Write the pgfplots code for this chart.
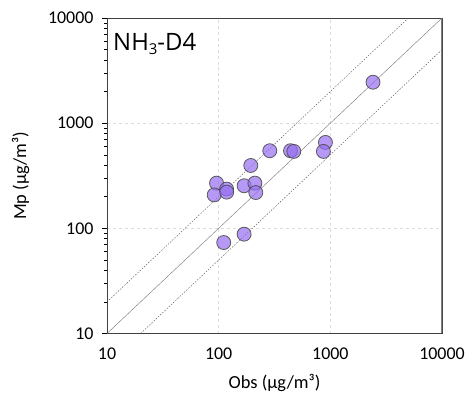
\documentclass[border=0pt]{standalone}
\usepackage{pgfplots}
\pgfplotsset{compat=1.18}
\usepackage{fontspec}
\setmainfont{Carlito}
\newfontfamily\titlefont{Open Sans}
\definecolor{ptfill}{RGB}{150,110,240}
\definecolor{gridc}{RGB}{220,220,220}
\begin{document}
\begin{tikzpicture}
\begin{axis}[
  name=ax,
  scale only axis,
  width=335bp, height=315.5bp,
  xmode=log, ymode=log,
  xmin=10, xmax=10000, ymin=10, ymax=10000,
  xtick={10,100,1000,10000}, ytick={10,100,1000,10000},
  xticklabels={10,100,1000,10000}, yticklabels={10,100,1000,10000},
  minor xtick={}, minor ytick={},
  log ticks with fixed point,
  tick label style={font=\fontsize{18}{18}\selectfont},
  xticklabel style={yshift=-6bp},
  yticklabel style={xshift=-5bp},
  /pgf/number format/assume math mode=true,
  xtick style={draw=none},
  ytick style={draw=black, thin},
  tick align=outside,
  major tick length=5bp,
  xtick pos=bottom, ytick pos=left,
  grid=major,
  major grid style={gridc, dashed, thin},
  axis line style={draw=black!75, thick},
  xlabel={Obs (µg/m³)}, ylabel={Mp (µg/m³)},
  label style={font=\fontsize{18.5}{18.5}\selectfont},
  xlabel style={yshift=-8bp},
  ylabel style={yshift=12bp},
  clip=true,
]
\addplot[black!55, thin] coordinates {(10,10) (10000,10000)};
\addplot[black!70, dash pattern=on 1.5pt off 1.5pt, thin] coordinates {(10,20) (5000,10000)};
\addplot[black!70, dash pattern=on 1.5pt off 1.5pt, thin] coordinates {(20,10) (10000,5000)};
\addplot[only marks, mark=*, mark size=7bp,
  mark options={fill=ptfill, fill opacity=0.7, draw=black!70, draw opacity=0.9, line width=0.8pt}]
  coordinates {
  (95.7,269) (91.2,208) (117.8,236) (118,221) (169,254) (211,269) (215,219)
  (194,396) (287,547) (440,547) (471,539) (904,656) (867,539)
  (111,73.3) (169,88) (2410,2450)
  };
\draw[black!50, line width=1.6pt] (rel axis cs:1,0) -- (rel axis cs:1,1);
\node[anchor=base west, font=\titlefont\fontsize{24}{24}\selectfont, inner sep=0pt]
  at (rel axis cs:0.018,0.898) {NH\raisebox{-0.35ex}{\fontsize{15}{15}\selectfont 3}-D4};
\end{axis}
\pgfresetboundingbox
\path[use as bounding box] (ax.south west) ++(-107bp,-72.5bp) rectangle ++(470bp,406bp);
\end{tikzpicture}
\end{document}
